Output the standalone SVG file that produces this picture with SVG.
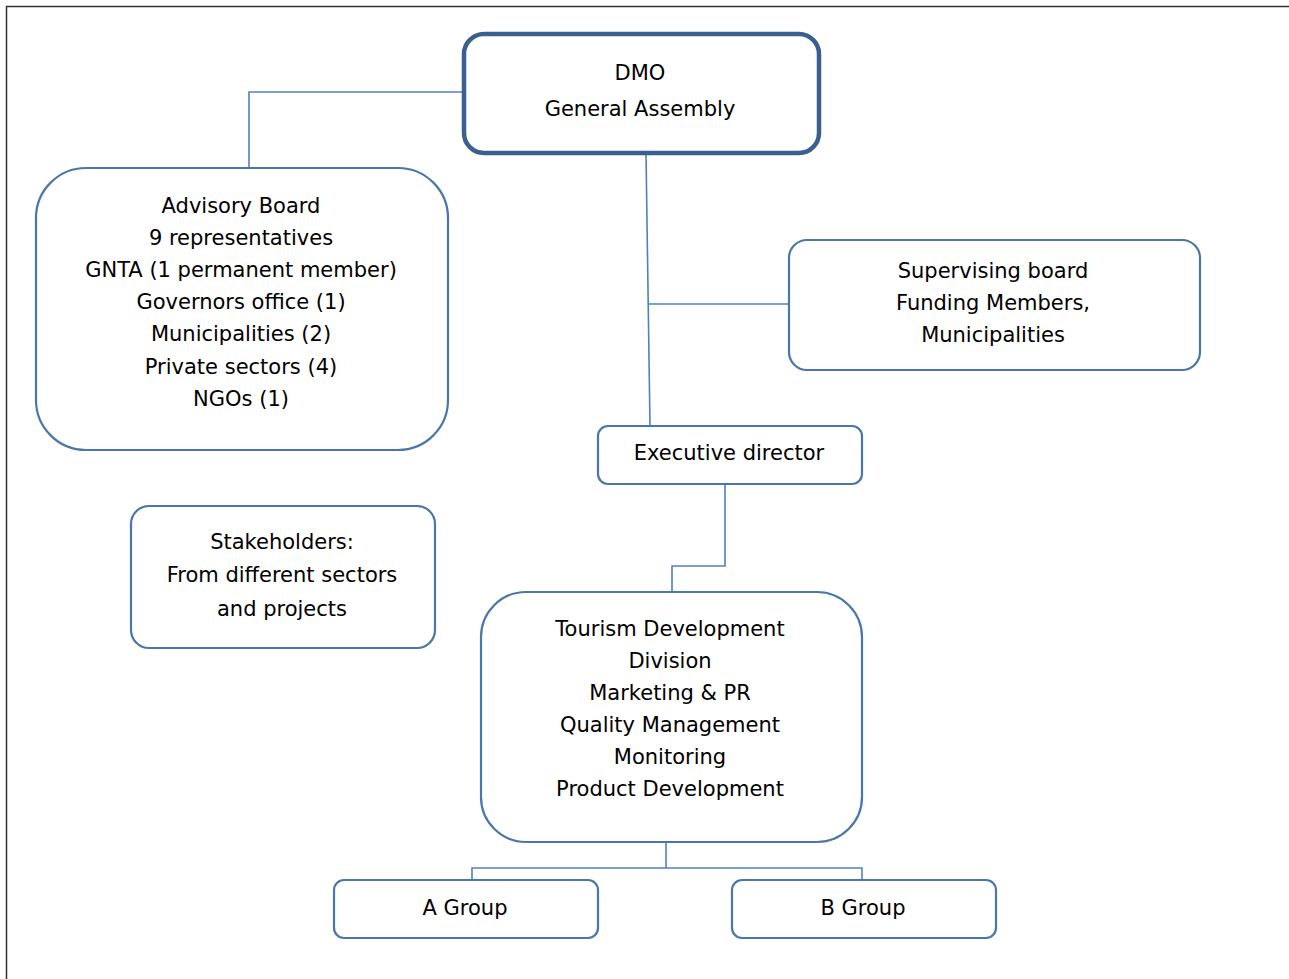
<svg xmlns="http://www.w3.org/2000/svg" width="1289" height="979" viewBox="0 0 1289 979">
<style>
.box{fill:#fff;stroke:#4a77aa;stroke-width:2.2}
.main{fill:#fff;stroke:#3b5f8e;stroke-width:4.5}
.c{fill:none;stroke:#4f81bd;stroke-width:1.6}
text{font-family:"DejaVu Sans","Liberation Sans",sans-serif;font-size:21px;fill:#000;text-anchor:middle}
</style>
<rect width="1289" height="979" fill="#fff"/>
<path d="M6.5 979 V6.5 H1289" fill="none" stroke="#333" stroke-width="1.5"/>
<g id="connectors">
<path class="c" d="M464 92 H249 V168"/>
<path class="c" d="M646 153 L650 426"/>
<path class="c" d="M649 304 H789"/>
<path class="c" d="M725 484 V566 H672 V592"/>
<path class="c" d="M666 842 V868"/>
<path class="c" d="M472 880 V868 H862 V880"/>
</g>
<g id="dmo">
<rect class="main" x="464" y="34" width="355" height="119" rx="20"/>
<text x="640" y="80">DMO</text>
<text x="640" y="116">General Assembly</text>
</g>
<g id="advisory">
<rect class="box" x="36" y="168" width="412" height="282" rx="50"/>
<text x="241" y="213">Advisory Board</text>
<text x="241" y="245">9 representatives</text>
<text x="241" y="277">GNTA (1 permanent member)</text>
<text x="241" y="309">Governors office (1)</text>
<text x="241" y="341">Municipalities (2)</text>
<text x="241" y="374">Private sectors (4)</text>
<text x="241" y="406">NGOs (1)</text>
</g>
<g id="supervising">
<rect class="box" x="789" y="240" width="411" height="130" rx="18"/>
<text x="993" y="278">Supervising board</text>
<text x="993" y="310">Funding Members,</text>
<text x="993" y="342">Municipalities</text>
</g>
<g id="executive">
<rect class="box" x="598" y="426" width="264" height="58" rx="10"/>
<text x="729" y="460">Executive director</text>
</g>
<g id="stakeholders">
<rect class="box" x="131" y="506" width="304" height="142" rx="18"/>
<text x="282" y="549">Stakeholders:</text>
<text x="282" y="582">From different sectors</text>
<text x="282" y="616">and projects</text>
</g>
<g id="tourism">
<rect class="box" x="481" y="592" width="381" height="250" rx="45"/>
<text x="670" y="636">Tourism Development</text>
<text x="670" y="668">Division</text>
<text x="670" y="700">Marketing &amp; PR</text>
<text x="670" y="732">Quality Management</text>
<text x="670" y="764">Monitoring</text>
<text x="670" y="796">Product Development</text>
</g>
<g id="agroup">
<rect class="box" x="334" y="880" width="264" height="58" rx="10"/>
<text x="465" y="915">A Group</text>
</g>
<g id="bgroup">
<rect class="box" x="732" y="880" width="264" height="58" rx="10"/>
<text x="863" y="915">B Group</text>
</g>
</svg>
